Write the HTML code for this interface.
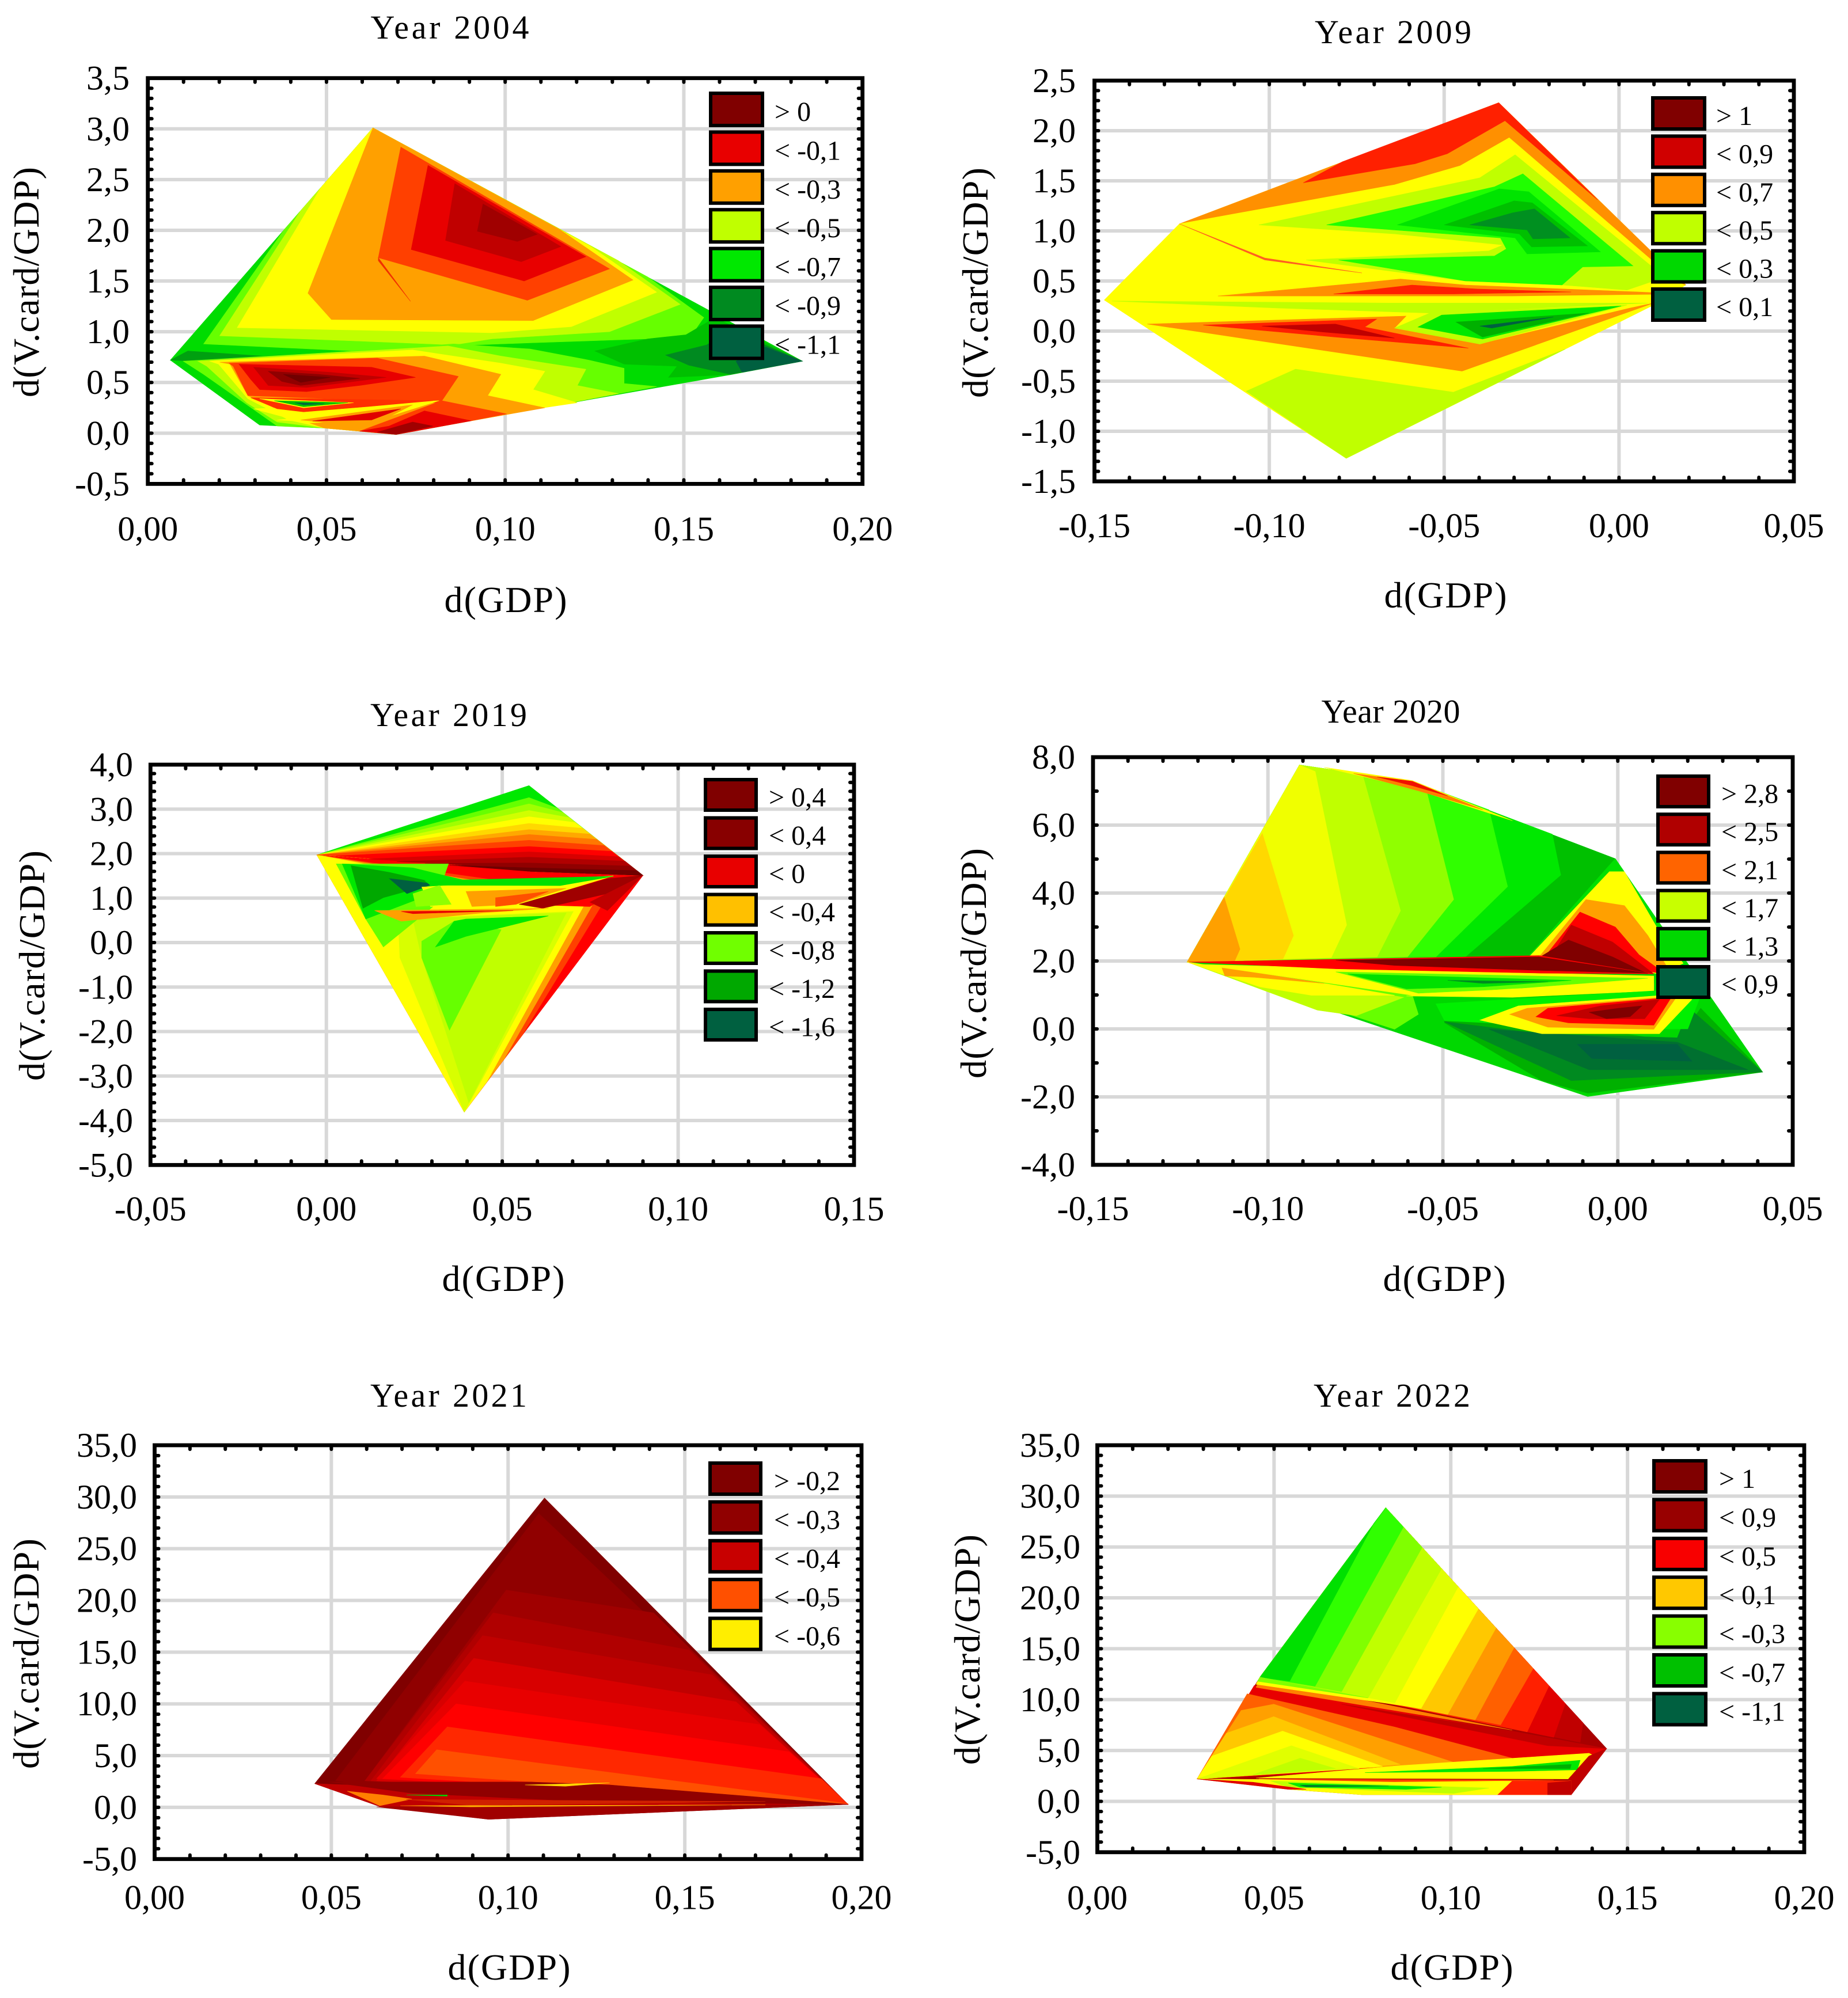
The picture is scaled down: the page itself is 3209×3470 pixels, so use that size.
<!DOCTYPE html>
<html lang="en">
<head>
<meta charset="utf-8">
<title>Contour plots of d(V.card/GDP) against d(GDP)</title>
<style>
html,body{margin:0;padding:0;background:#fff;}
svg{display:block;}
text{font-family:"Liberation Serif",serif;fill:#000;}
</style>
</head>
<body>
<svg id="chart" width="3209" height="3470" viewBox="0 0 3209 3470" xmlns="http://www.w3.org/2000/svg"></svg>
<script>
/* ---------- Year 2004 ---------- */
const xTicks2004 = [0, 0.05, 0.1, 0.15, 0.2];
const yTicks2004 = [-0.5, 0, 0.5, 1, 1.5, 2, 2.5, 3, 3.5];
const legendLabels2004 = ["> 0", "< -0,1", "< -0,3", "< -0,5", "< -0,7", "< -0,9", "< -1,1"];
const legendFills2004 = ["#800000", "#e80000", "#ffa000", "#c0ff00", "#00e800", "#008a20", "#006040"];
const regions2004 = [
[[.0063,.72],[.063,3.01],[.1832,.71],[.163,.576],[.1103,.248],[.0905,.122],[.0695,-.013],[.0494,.05],[.0313,.08]],
[[.0063,.72],[.0112,.81],[.0321,.76],[.0576,.81],[.0132,.71]],
[[.0156,.88],[.038,2.0],[.063,3.01],[.1399,1.54],[.1556,1.14],[.1506,.89],[.1399,.93],[.107,.89],[.084,.86],[.0576,.81]],
[[.0201,.96],[.0427,2.19],[.063,3.01],[.1317,1.7],[.149,1.27],[.1292,1.0],[.0963,.93],[.0856,.87],[.0576,.91]],
[[.025,1.04],[.0484,2.42],[.063,3.01],[.1235,1.85],[.1424,1.39],[.1185,1.05],[.0963,.99]],
[[.0448,1.38],[.063,3.01],[.1152,2.01],[.1358,1.51],[.1078,1.11],[.0514,1.12]],
[[.0645,1.73],[.0708,2.82],[.1292,1.62],[.1062,1.31]],
[[.0737,1.81],[.0784,2.64],[.1226,1.74],[.1053,1.5]],
[[.0833,1.9],[.0859,2.46],[.1156,1.84],[.1045,1.69]],
[[.0922,1.99],[.0938,2.26],[.109,1.96],[.1034,1.89]],
[[.0645,1.73],[.0735,1.3],[.0645,1.7]],
[[.0099,.71],[.0576,.81],[.0856,.88],[.107,.83],[.1235,.72],[.1333,.64],[.1333,.49],[.1424,.46],[.1103,.248],[.0905,.122],[.0695,-.013],[.0494,.05],[.0362,.07],[.0156,.58]],
[[.014,.71],[.084,.86],[.0988,.76],[.1226,.63],[.1202,.47],[.1317,.39],[.1103,.248],[.0905,.122],[.0695,-.013],[.0494,.05],[.0362,.11],[.0277,.3],[.0165,.66]],
[[.0173,.71],[.0741,.82],[.0988,.69],[.1111,.61],[.1078,.43],[.1202,.3],[.1103,.248],[.0905,.122],[.0695,-.013],[.0494,.05],[.0395,.13],[.028,.34],[.0198,.68]],
[[.0201,.7],[.0774,.76],[.0988,.58],[.0951,.37],[.1111,.25],[.0905,.122],[.0695,-.013],[.0494,.05],[.0428,.13],[.028,.37],[.023,.68]],
[[.0227,.69],[.0642,.74],[.0869,.56],[.0823,.32],[.1004,.19],[.0905,.122],[.0695,-.013],[.0593,.02],[.0807,.3],[.028,.37],[.0239,.66]],
[[.0296,.24],[.0815,.32],[.0642,.13],[.0444,.1]],
[[.0288,.35],[.0798,.32],[.0609,.26],[.0436,.21],[.0362,.24]],
[[.0313,.34],[.0576,.3],[.0436,.25]],
[[.0354,.32],[.056,.3],[.0436,.26]],
[[.0412,.3],[.0494,.29],[.0436,.28]],
[[.0362,.13],[.0724,.26],[.0658,.16],[.0461,.11]],
[[.0428,.13],[.0741,.28],[.0658,.13],[.051,.1]],
[[.0461,.12],[.0708,.24],[.0626,.13]],
[[.0593,.02],[.0675,.07],[.0774,.22],[.0905,.122],[.0695,-.013]],
[[.0642,.01],[.0741,.11],[.0798,.07],[.0695,-.013]],
[[.0255,.68],[.0626,.65],[.0749,.55],[.0593,.47],[.0444,.41],[.0313,.43],[.0288,.53]],
[[.0296,.65],[.051,.6],[.0667,.55],[.0444,.45],[.0337,.47]],
[[.0337,.61],[.0477,.58],[.0593,.54],[.0428,.47],[.0375,.51]],
[[.0379,.58],[.051,.55],[.0428,.5]],
[[.1251,.81],[.1399,.93],[.1506,.97],[.1588,1.14],[.1832,.71],[.163,.576],[.1457,.55],[.1481,.66],[.1333,.68]],
[[.1449,.77],[.1564,.87],[.163,1.02],[.1832,.71],[.163,.58],[.1514,.67]],
[[.1646,.71],[.1728,.85],[.1832,.71],[.1663,.6]]
];
const regionFills2004 = ["#00dc00","#00a010","#66ff00","#c0ff00","#ffff00","#ffa000","#ff4000","#e80000","#c00000","#a00000","#f03000","#66ff00","#c0ff00","#ffff00","#ffa000","#ff4000","#ffff00","#ff3000","#ffff00","#00c000","#006040","#ffff00","#ffa000","#e00000","#e80000","#a00000","#e80000","#c00000","#900000","#700000","#00c000","#008a20","#006040"];

/* ---------- Year 2009 ---------- */
const xTicks2009 = [-0.15, -0.1, -0.05, 0, 0.05];
const yTicks2009 = [-1.5, -1, -0.5, 0, 0.5, 1, 1.5, 2, 2.5];
const legendLabels2009 = ["> 1", "< 0,9", "< 0,7", "< 0,5", "< 0,3", "< 0,1"];
const legendFills2009 = ["#800000", "#d00000", "#ff9000", "#c0ff00", "#00d800", "#006040"];
const regions2009 = [
[[-.1472,.31],[-.1257,1.07],[-.0344,2.28],[.0191,.46],[.0099,.26],[-.078,-1.27]],
[[-.1066,-.6],[-.0925,-.38],[-.0474,-.61],[-.0154,-.18],[-.078,-1.27]],
[[-.1257,1.07],[-.0344,2.28],[.0191,.46],[.0099,.58]],
[[-.0903,1.48],[-.0791,1.69],[-.0344,2.28],[-.0061,1.31],[-.0326,2.1],[-.0491,1.77],[-.0583,1.67]],
[[-.1257,1.07],[-.0642,1.46],[-.0454,1.65],[-.0314,1.93],[.0099,.69],[.0182,.46],[.0082,.37],[-.1147,.35]],
[[-.103,1.06],[-.0398,1.53],[-.0297,1.76],[.0099,.63],[.0099,.5],[.0023,.41],[-.0163,.46],[-.044,.5],[-.0895,.71],[-.0373,.8],[-.0331,.86],[-.0642,.97]],
[[-.0836,1.06],[-.0356,1.44],[-.0275,1.57],[.004,.65],[-.0104,.64],[-.0163,.46],[-.044,.5],[-.0802,.71],[-.0356,.75],[-.0322,.82],[-.0339,.93]],
[[-.0634,1.06],[-.0342,1.42],[-.0258,1.39],[-.0053,.79],[-.0263,.77],[-.0297,.93]],
[[-.05,1.06],[-.03,1.3],[-.0248,1.28],[-.009,.85],[-.025,.84],[-.0285,.97]],
[[-.0427,1.06],[-.0305,1.18],[-.0242,1.22],[-.014,.93],[-.0246,.92],[-.0263,1.01]],
[[-.1257,1.07],[-.1013,.73],[-.0735,.58],[-.1013,.71]],
[[-.145,.3],[-.0642,.28],[.0082,.28],[-.0541,.18],[-.0979,.23]],
[[-.1147,.35],[-.0743,.48],[-.0625,.52],[-.044,.46],[.0057,.39],[.0182,.37],[-.0306,.35]],
[[-.0816,.37],[-.0592,.46],[-.0406,.42],[-.0137,.39],[-.0474,.37]],
[[-.1349,.07],[-.0609,.15],[-.0642,.03],[-.0398,-.13],[.0031,.23],[.0099,.28],[-.0449,-.4]],
[[-.1189,.06],[-.0693,.12],[-.0727,.04],[-.0431,-.17],[-.0811,-.06]],
[[-.1021,.05],[-.0811,.07],[-.0642,-.07],[-.0845,-.01]],
[[-.0642,.03],[-.0541,.18],[.0023,.26],[-.0398,-.13]],
[[-.0575,.04],[-.0507,.16],[.0006,.25],[-.039,-.08]],
[[-.0466,.09],[-.0086,.18],[-.039,-.06]],
[[-.0398,.05],[-.0188,.14],[-.0364,.03]]
];
const regionFills2009 = ["#ffff00","#c0ff00","#ff9000","#ff2000","#ffff00","#c0ff00","#20ff00","#00e400","#00c000","#009020","#ff6020","#c0ff00","#ff9000","#ff2000","#ff9000","#ff2000","#c00000","#c0ff00","#00e800","#00b000","#006040"];

/* ---------- Year 2019 ---------- */
const xTicks2019 = [-0.05, 0, 0.05, 0.1, 0.15];
const yTicks2019 = [-5, -4, -3, -2, -1, 0, 1, 2, 3, 4];
const legendLabels2019 = ["> 0,4", "< 0,4", "< 0", "< -0,4", "< -0,8", "< -1,2", "< -1,6"];
const legendFills2019 = ["#800000", "#880000", "#e80000", "#ffc000", "#70ff00", "#00a800", "#006040"];
const regions2019 = [
[[-.0027,1.97],[.09,1.51],[.0392,-3.81]],
[[-.0027,1.97],[.0799,1.05],[.0556,-2.09],[.0392,-3.81]],
[[-.0027,1.97],[.0765,.96],[.0506,-2.61],[.0392,-3.81]],
[[-.0027,1.97],[.0732,.83],[.0456,-3.13],[.0392,-3.81]],
[[.0204,.53],[.0702,.7],[.0392,-3.81],[.0209,-.34]],
[[.0246,.53],[.0682,.67],[.0405,-3.6],[.0271,-.34]],
[[.0271,-.34],[.0271,.03],[.0363,.48],[.0497,.29],[.035,-1.97]],
[[.031,-.1],[.0363,.48],[.0397,.53],[.0631,.6],[.0397,.14]],
[[-.0027,1.97],[.0576,3.53],[.09,1.51],[.0581,1.6],[.0347,1.77]],
[[-.0027,1.97],[.0576,3.26],[.0657,3.02],[.09,1.51],[.0581,1.6],[.0347,1.77]],
[[-.0027,1.97],[.0576,3.12],[.0673,2.92],[.09,1.51],[.0581,1.6],[.0347,1.77]],
[[-.0027,1.97],[.0576,2.97],[.069,2.81],[.09,1.51],[.0581,1.6],[.0347,1.77]],
[[-.0027,1.97],[.0576,2.83],[.0707,2.7],[.09,1.51],[.0581,1.6],[.0347,1.77]],
[[-.0027,1.97],[.0576,2.68],[.0729,2.57],[.09,1.51],[.0581,1.6],[.0347,1.77]],
[[-.0027,1.97],[.0576,2.54],[.0749,2.44],[.09,1.51],[.0581,1.6],[.0347,1.77]],
[[-.0027,1.97],[.0576,2.43],[.0769,2.32],[.09,1.51],[.0581,1.6],[.0347,1.77]],
[[-.0027,1.97],[.0576,2.3],[.079,2.18],[.09,1.51],[.0581,1.6],[.0347,1.77]],
[[.0028,1.95],[.0576,2.16],[.0812,2.05],[.09,1.51],[.0581,1.6],[.0347,1.77]],
[[.012,1.88],[.0576,2.04],[.0832,1.93],[.09,1.51],[.0581,1.6],[.0347,1.77]],
[[.02,1.82],[.0576,1.92],[.0849,1.83],[.09,1.51],[.0581,1.6],[.0347,1.77]],
[[.028,1.78],[.0576,1.79],[.0866,1.72],[.09,1.51],[.0581,1.6],[.0347,1.77]],
[[.035,1.74],[.0576,1.68],[.0883,1.62],[.09,1.51],[.0581,1.6]],
[[.0028,1.77],[.0347,1.77],[.0305,.82],[.0162,-.1],[.0112,.53]],
[[.0045,1.77],[.0246,1.68],[.0397,1.39],[.0112,.53]],
[[.007,1.73],[.0179,1.58],[.0313,1.34],[.0162,1.01],[.0104,.77]],
[[.0179,1.44],[.0305,1.32],[.0229,1.1]],
[[.0271,1.25],[.0816,1.5],[.0548,.86],[.0296,.81]],
[[.0246,1.1],[.0322,1.29],[.0355,.86],[.0255,.81]],
[[.0397,1.15],[.0682,1.22],[.0539,.86],[.0414,.81]],
[[.0481,1.01],[.0631,1.15],[.0539,.86],[.0481,.81]],
[[.028,1.39],[.0816,1.49],[.0665,1.28],[.0296,1.29]],
[[.09,1.51],[.0816,1.39],[.0548,.86],[.0749,.81]],
[[.0548,.86],[.0799,1.44],[.09,1.51],[.0799,1.1],[.0615,.77]],
[[.09,1.51],[.0749,.91],[.0799,.72]],
[[.0137,.72],[.0631,.77],[.0447,.67],[.0213,.48]],
[[.0213,.7],[.0531,.72],[.0246,.65]]
];
const regionFills2019 = ["#ff0000","#ff4000","#ffa000","#ffff00","#d8ff00","#c0ff00","#66ff00","#00e800","#00e800","#66ff00","#a0ff00","#d0ff00","#ffff00","#ffd800","#ffa800","#ff7800","#ff4000","#ff0000","#d80000","#b00000","#900000","#700000","#66ff00","#00e800","#00a800","#006040","#ffff00","#90ff00","#ffa000","#ff5000","#00e000","#ff0000","#a00000","#c00000","#ffa000","#e80000"];

/* ---------- Year 2020 ---------- */
const xTicks2020 = [-0.15, -0.1, -0.05, 0, 0.05];
const yTicks2020 = [-4, -2, 0, 2, 4, 6, 8];
const legendLabels2020 = ["> 2,8", "< 2,5", "< 2,1", "< 1,7", "< 1,3", "< 0,9"];
const legendFills2020 = ["#800000", "#b00000", "#ff6400", "#c8ff00", "#00d800", "#006040"];
const regions2020 = [
[[-.1231,1.97],[-.091,7.77],[-.0587,7.29],[-.0007,5.01],[.0119,3.12],[.0414,-1.27],[-.0086,-1.99]],
[[-.1231,1.97],[-.091,7.77],[-.0587,7.29],[-.0007,5.01],[-.0251,2.15]],
[[-.1231,1.97],[-.091,7.77],[-.0587,7.29],[-.0187,5.73],[-.0163,4.53],[-.0436,2.12]],
[[-.1231,1.97],[-.091,7.77],[-.0587,7.29],[-.0368,6.45],[-.0315,4.19],[-.052,2.12]],
[[-.1231,1.97],[-.091,7.77],[-.0587,7.29],[-.055,7.14],[-.0469,3.81],[-.0601,2.12]],
[[-.1231,1.97],[-.091,7.77],[-.073,7.5],[-.0621,3.48],[-.0688,2.12]],
[[-.1231,1.97],[-.091,7.77],[-.0865,7.58],[-.0775,3.06],[-.0819,2.1]],
[[-.1231,1.97],[-.1016,5.76],[-.0927,2.75],[-.0957,2.06]],
[[-.1231,1.97],[-.1125,3.88],[-.108,2.35],[-.1095,2.0]],
[[-.0839,7.7],[-.0587,7.31],[-.0301,6.13],[-.0587,7.08]],
[[-.0755,7.52],[-.0587,7.29],[-.0385,6.45],[-.057,7.01]],
[[-.0688,7.42],[-.0587,7.29],[-.0486,6.86],[-.0587,7.16]],
[[-.0267,2.0],[-.0024,4.82],[-.0007,5.01],[.0119,3.12],[.0204,1.87],[-.0133,1.62]],
[[-.0251,2.15],[-.0024,4.63],[.0019,4.63],[.0111,3.0],[.0187,1.93],[.0119,1.62]],
[[-.0225,2.12],[-.0091,3.81],[.0019,3.63],[.0086,2.75],[.0153,1.62]],
[[-.0209,2.12],[-.0108,3.44],[-.0007,3.0],[.0061,2.18],[.0136,1.62]],
[[-.0192,2.12],[-.0133,3.06],[-.0015,2.56],[.0103,1.62]],
[[-.0225,2.1],[-.0141,2.62],[-.0015,2.12],[.0086,1.62],[-.0133,1.74]],
[[-.0503,.74],[-.0495,.18],[-.0217,-1.52],[-.0086,-1.89],[.0414,-1.27],[.0237,.61],[.017,-.39]],
[[-.0495,.21],[-.0133,-1.52],[.017,-1.37],[.0414,-1.27],[.0204,.61],[.017,-.26],[-.0217,-.14]],
[[-.0368,-.01],[-.0082,-1.2],[.0372,-1.2],[.017,-.39]],
[[-.0116,-.45],[-.0074,-.87],[.0212,-.95],[.017,-.45]],
[[-.1231,1.97],[-.0587,.99],[-.057,.43],[-.0638,-.01]],
[[-.1231,1.97],[-.0612,.93],[-.0747,.39],[-.0858,.55]],
[[-.1231,1.97],[-.0839,1.34],[-.0638,.99],[-.0876,.99],[-.1024,1.24]],
[[-.1132,1.81],[-.0839,1.34],[-.1039,1.52],[-.1123,1.56]],
[[-.1193,1.9],[.0103,1.56],[.0103,1.12],[-.0587,.99]],
[[-.0806,1.68],[.0086,1.49],[-.0301,1.18],[-.057,1.05]],
[[-.0772,1.62],[-.0133,1.43],[-.0385,1.24],[-.0604,1.18]],
[[-.0486,1.43],[-.02,1.39],[-.0385,1.34]],
[[-.0604,.97],[-.0301,1.18],[.0103,1.34],[.0103,1.12],[-.0301,.93]],
[[-.1226,1.97],[-.0225,2.16],[.0103,1.62],[-.0217,1.64],[-.0806,1.77]],
[[-.0806,2.02],[-.0225,2.12],[.0086,1.64],[-.0217,1.72],[-.0638,1.87]],
[[-.0495,.24],[-.052,.74],[.0103,1.12],[.0237,.99],[.02,0],[0,0]],
[[-.0394,.26],[-.0284,.68],[.017,1.02],[.0212,.87],[.0119,-.14],[-.0217,-.14]],
[[-.0309,.43],[-.0259,.61],[.017,.97],[.0103,-.01],[-.02,.05]],
[[-.0234,.36],[-.02,.61],[.0153,.93],[.0103,.11],[-.0141,.18]],
[[-.0175,.39],[-.0049,.68],[.0119,.87],[.0077,.3],[-.0082,.3]],
[[-.0082,.49],[.0002,.61],[.0069,.68],[.0035,.36],[-.0032,.3]]
];
const regionFills2020 = ["#00d800","#00c000","#00e800","#30ff00","#90ff00","#c0ff00","#f0ff00","#ffd800","#ffa000","#ffff00","#ff8000","#f01000","#00e000","#ffff00","#ffa000","#ff0000","#c00000","#800000","#00b000","#008a20","#007030","#006040","#66ff00","#c0ff00","#ffff00","#ffa000","#ffff00","#66ff00","#00e000","#008a20","#ffff00","#ff0000","#800000","#00f000","#ffff00","#ffa000","#ff0000","#c00000","#800000"];

/* ---------- Year 2021 ---------- */
const xTicks2021 = [0, 0.05, 0.1, 0.15, 0.2];
const yTicks2021 = [-5, 0, 5, 10, 15, 20, 25, 30, 35];
const legendLabels2021 = ["> -0,2", "< -0,3", "< -0,4", "< -0,5", "< -0,6"];
const legendFills2021 = ["#800000", "#900000", "#c80000", "#ff5000", "#ffee00"];
const regions2021 = [
[[.0453,2.29],[.1103,29.9],[.1962,.28],[.0945,-1.16],[.0637,.08]],
[[.0512,2.57],[.1087,28.4],[.1962,.28],[.1228,.3]],
[[.0995,21.0],[.1412,18.8],[.1962,.28],[.0595,2.57]],
[[.0958,18.8],[.1512,15.2],[.1962,.28],[.0595,2.57]],
[[.0928,16.6],[.1578,12.8],[.1962,.28],[.0612,2.57]],
[[.0903,14.4],[.1645,10.2],[.1962,.28],[.0628,2.57]],
[[.0878,12.2],[.1712,8.0],[.1962,.28],[.0628,2.77]],
[[.0853,10.0],[.1795,5.37],[.1962,.28],[.0645,2.77]],
[[.0828,7.78],[.1887,2.77],[.1962,.28],[.0695,2.9]],
[[.0798,5.57],[.1962,.36],[.0738,3.25]],
[[.0453,2.29],[.1962,.28],[.0637,.08]],
[[.0545,1.56],[.0645,1.2],[.0728,.8],[.0637,.16]],
[[.0495,2.45],[.1062,2.45],[.1287,2.17],[.1962,.28],[.122,.56],[.0728,1.36]],
[[.1048,2.17],[.1287,2.37],[.1162,2.04]],
[[.0628,.04],[.1962,.28],[.0945,-1.16]],
[[.0712,.76],[.1728,.56],[.0895,.2]],
[[.0695,.16],[.1728,.24],[.0895,.04]],
[[.0713,1.2],[.0828,1.2],[.0828,1.08]]
];
const regionFills2021 = ["#800000","#900000","#a00000","#b00000","#c00000","#d80000","#e80000","#ff0000","#ff2800","#ff5000","#c00000","#ff8000","#900000","#ffd800","#a00000","#d02000","#ffb000","#00d000"];

/* ---------- Year 2022 ---------- */
const xTicks2022 = [0, 0.05, 0.1, 0.15, 0.2];
const yTicks2022 = [-5, 0, 5, 10, 15, 20, 25, 30, 35];
const legendLabels2022 = ["> 1", "< 0,9", "< 0,5", "< 0,1", "< -0,3", "< -0,7", "< -1,1"];
const legendFills2022 = ["#800000", "#980000", "#f80000", "#ffc800", "#88ff00", "#00c000", "#006040"];
const regions2022 = [
[[.0282,2.2],[.046,12.2],[.0816,28.86],[.1441,5.18],[.1341,.65],[.0749,.65],[.054,1.18]],
[[.046,12.2],[.0816,28.86],[.1374,7.72],[.1366,5.8]],
[[.046,12.2],[.0816,28.86],[.1324,9.61],[.1291,6.29]],
[[.046,12.2],[.0816,28.86],[.1278,11.36],[.1216,6.82]],
[[.046,12.2],[.0816,28.86],[.1233,13.06],[.1141,7.51]],
[[.046,12.2],[.0816,28.86],[.1179,15.1],[.1069,8.0]],
[[.046,12.2],[.0816,28.86],[.1128,17.04],[.0991,8.53]],
[[.046,12.2],[.0816,28.86],[.1078,18.93],[.0916,9.14]],
[[.046,12.2],[.0816,28.86],[.1021,21.09],[.0841,9.63]],
[[.046,12.2],[.0816,28.86],[.0974,22.87],[.0766,10.16]],
[[.046,12.2],[.0816,28.86],[.0919,24.96],[.0691,10.78]],
[[.046,12.2],[.0816,28.86],[.0866,26.97],[.0616,11.31]],
[[.046,12.2],[.0816,28.86],[.0782,27.31],[.0544,11.8]],
[[.0444,11.39],[.1441,5.18],[.1408,4.24],[.0282,2.2]],
[[.0691,9.55],[.1174,6.9],[.1441,5.18],[.1274,5.47]],
[[.0424,10.57],[.0841,7.31],[.1174,4.24],[.0282,2.2]],
[[.0407,8.94],[.0499,9.55],[.1008,3.84],[.0282,2.2]],
[[.0365,6.69],[.0499,8.33],[.0857,3.63],[.0282,2.2]],
[[.0324,4.45],[.0524,6.9],[.0807,3.43],[.0282,2.2]],
[[.0282,2.2],[.0549,5.47],[.0741,3.22]],
[[.044,2.61],[.0574,4.24],[.0674,3.22]],
[[.046,12.0],[.1174,7.0],[.0449,11.2]],
[[.046,12.2],[.0916,9.14],[.0449,11.5]],
[[.046,12.2],[.0766,10.16],[.0453,11.8]],
[[.0449,2.29],[.0857,3.51],[.1391,4.73],[.1408,4.45],[.1341,2.2]],
[[.0757,2.82],[.1174,3.43],[.1366,4.04],[.1358,3.1],[.1174,2.94]],
[[.1091,3.22],[.1341,3.63],[.1338,3.22]],
[[.1391,4.45],[.1441,5.18],[.1341,.65],[.1333,2.2]],
[[.0282,2.2],[.1174,2.0],[.1341,2.0],[.1341,.65],[.0749,.65],[.054,1.18]],
[[.1174,2.0],[.1341,2.0],[.1341,.65],[.1133,.65]],
[[.1274,1.8],[.1341,2.0],[.1341,.65],[.1274,.65]],
[[.0491,2.0],[.1108,1.31],[.1008,.78],[.054,1.39]],
[[.054,1.8],[.0974,1.39],[.0874,1.18],[.0574,1.39]],
[[.0574,1.59],[.0824,1.51],[.0591,1.43]],
[[.0282,2.2],[.054,1.18],[.0591,1.18],[.044,1.88]],
[[.0457,2.2],[.1291,2.08],[.0841,1.92]]
];
const regionFills2022 = ["#a80000","#c00000","#e00000","#ff2000","#ff6000","#ff9800","#ffc800","#ffff00","#e0ff00","#c0ff00","#80ff00","#30ff00","#00e000","#e80000","#c00000","#ff6000","#ffa000","#ffc800","#ffff00","#e0ff00","#c0ff00","#ff8000","#ffff00","#80ff00","#ffff00","#00e800","#00b000","#c00000","#ffff00","#ff2000","#c00000","#c0ff00","#00e800","#007030","#e00000","#ff4000"];

const svg = document.getElementById('chart');
const NS = 'http://www.w3.org/2000/svg';

function make(tag, parent, props) {
  const node = document.createElementNS(NS, tag);
  for (const k in props) node.setAttribute(k, props[k]);
  parent.appendChild(node);
  return node;
}

function drawPanel(p) {
  const f = p.frame;
  const xMin = p.xTicks[0], xMax = p.xTicks[p.xTicks.length - 1];
  const yMin = p.yTicks[0], yMax = p.yTicks[p.yTicks.length - 1];
  const sx = v => f.l + (v - xMin) / (xMax - xMin) * (f.r - f.l);
  const sy = v => f.b - (v - yMin) / (yMax - yMin) * (f.b - f.t);

  const g = make('g', svg, {});
  
  

  const title = make('text', g, {x: p.titleX, y: p.titleY, 'text-anchor': 'middle', 'font-size': 58, textLength: p.titleLen, lengthAdjust: 'spacing'});
  title.textContent = 'Year ' + p.year;
  
  

  const bg = make('rect', g, {x: f.l, y: f.t, width: f.r - f.l, height: f.b - f.t, fill: '#fff'});
  
  

  p.xTicks.forEach(v => {
    const line = make('line', g, {x1: sx(v), x2: sx(v), y1: f.t, y2: f.b, stroke: '#d8d8d8', 'stroke-width': 6});
    
    
  });
  p.yTicks.forEach(v => {
    const line = make('line', g, {x1: f.l, x2: f.r, y1: sy(v), y2: sy(v), stroke: '#d8d8d8', 'stroke-width': 6});
    
    
  });

  p.regions.forEach((pts, i) => {
    const poly = make('polygon', g, {
      points: pts.map(q => sx(q[0]).toFixed(1) + ',' + sy(q[1]).toFixed(1)).join(' '),
      fill: p.fills[i], stroke: p.fills[i], 'stroke-width': 0.6
    });
    
    
  });

  const xStep = 0.01, yStep = p.yMinor;
  const nx = Math.round((xMax - xMin) / xStep), ny = Math.round((yMax - yMin) / yStep);
  for (let i = 0; i <= nx; i++) {
    const x = sx(xMin + i * xStep);
    [[f.t, f.t + 7], [f.b, f.b - 7]].forEach(pair => {
      const t = make('line', g, {x1: x, x2: x, y1: pair[0], y2: pair[1], stroke: '#000', 'stroke-width': 6, 'stroke-linecap': 'round'});
      
      
    });
  }
  for (let i = 0; i <= ny; i++) {
    const y = sy(yMin + i * yStep);
    [[f.l, f.l + 7], [f.r, f.r - 7]].forEach(pair => {
      const t = make('line', g, {y1: y, y2: y, x1: pair[0], x2: pair[1], stroke: '#000', 'stroke-width': 6, 'stroke-linecap': 'round'});
      
      
    });
  }

  const border = make('rect', g, {x: f.l, y: f.t, width: f.r - f.l, height: f.b - f.t, fill: 'none', stroke: '#000', 'stroke-width': 6.8});
  
  

  p.xTicks.forEach(v => {
    const t = make('text', g, {x: sx(v), y: f.b + p.xLabelDy, 'text-anchor': 'middle', 'font-size': 60});
    t.textContent = v.toFixed(2).replace('.', ',');
    
    
  });
  p.yTicks.forEach(v => {
    const t = make('text', g, {x: p.yLabelX, y: sy(v) + 20, 'text-anchor': 'end', 'font-size': 60});
    t.textContent = v.toFixed(1).replace('.', ',');
    
    
  });

  const xt = make('text', g, {x: p.xTitleX, y: p.xTitleY, 'text-anchor': 'middle', 'font-size': 64, textLength: 213, lengthAdjust: 'spacing'});
  xt.textContent = 'd(GDP)';
  
  

  const yt = make('text', g, {transform: 'translate(' + p.yTitleX + ' ' + p.yTitleY + ') rotate(-90)', 'text-anchor': 'middle', 'font-size': 64, textLength: 400, lengthAdjust: 'spacing'});
  yt.textContent = 'd(V.card/GDP)';
  
  

  const L = p.legend;
  p.labels.forEach((label, i) => {
    const y = L.y + i * L.pitch;
    const sw = make('rect', g, {x: L.x, y: y, width: L.w, height: L.h, fill: p.legendFills[i], stroke: '#000', 'stroke-width': 6});
    
    
    const t = make('text', g, {x: L.tx, y: y + L.h / 2 + 20, 'font-size': 48});
    t.textContent = label;
    
    
  });
}

const panelLayouts = [
  {year: 2004, frame: {l:256.7,r:1497.7,t:135.7,b:840.4}, titleX:781, titleY:67, titleLen:275, xLabelDy:98, yLabelX:225, xTitleX:878, xTitleY:1063, yTitleX:67, yTitleY:490, yMinor:0.1, legend:{x:1234,y:162,w:90,h:56,pitch:67.4,tx:1345}},
  {year: 2009, frame: {l:1900.5,r:3115,t:140,b:836}, titleX:2419, titleY:75, titleLen:272, xLabelDy:97, yLabelX:1868, xTitleX:2510, xTitleY:1055, yTitleX:1715, yTitleY:491, yMinor:0.1, legend:{x:2870,y:170,w:90,h:54,pitch:66.4,tx:2980}},
  {year: 2019, frame: {l:261.3,r:1483,t:1328,b:2023.3}, titleX:779, titleY:1261, titleLen:272, xLabelDy:96, yLabelX:231, xTitleX:874, xTitleY:2242, yTitleX:77, yTitleY:1677, yMinor:0.2, legend:{x:1225,y:1354,w:88,h:53,pitch:66.5,tx:1335}},
  {year: 2020, frame: {l:1898,r:3113,t:1315,b:2023}, titleX:2415, titleY:1255, titleLen:241, xLabelDy:96, yLabelX:1867, xTitleX:2508, xTitleY:2242, yTitleX:1712, yTitleY:1673, yMinor:1, legend:{x:2879,y:1348,w:88,h:53,pitch:66.2,tx:2989}},
  {year: 2021, frame: {l:268.5,r:1496,t:2510,b:3228.7}, titleX:779, titleY:2443, titleLen:272, xLabelDy:87, yLabelX:238, xTitleX:884, xTitleY:3438, yTitleX:67, yTitleY:2872, yMinor:1, legend:{x:1233,y:2541,w:88,h:54,pitch:67.4,tx:1344}},
  {year: 2022, frame: {l:1905.5,r:3133,t:2510,b:3216.8}, titleX:2417, titleY:2443, titleLen:272, xLabelDy:99, yLabelX:1876, xTitleX:2521, xTitleY:3438, yTitleX:1701, yTitleY:2865, yMinor:1, legend:{x:2872,y:2537,w:90,h:54,pitch:67.4,tx:2985}}
];
const panelData = [
  {xTicks:xTicks2004, yTicks:yTicks2004, labels:legendLabels2004, legendFills:legendFills2004, regions:regions2004, fills:regionFills2004},
  {xTicks:xTicks2009, yTicks:yTicks2009, labels:legendLabels2009, legendFills:legendFills2009, regions:regions2009, fills:regionFills2009},
  {xTicks:xTicks2019, yTicks:yTicks2019, labels:legendLabels2019, legendFills:legendFills2019, regions:regions2019, fills:regionFills2019},
  {xTicks:xTicks2020, yTicks:yTicks2020, labels:legendLabels2020, legendFills:legendFills2020, regions:regions2020, fills:regionFills2020},
  {xTicks:xTicks2021, yTicks:yTicks2021, labels:legendLabels2021, legendFills:legendFills2021, regions:regions2021, fills:regionFills2021},
  {xTicks:xTicks2022, yTicks:yTicks2022, labels:legendLabels2022, legendFills:legendFills2022, regions:regions2022, fills:regionFills2022}
];
panelLayouts.forEach((layout, i) => drawPanel(Object.assign({}, layout, panelData[i])));
</script>
</body>
</html>
